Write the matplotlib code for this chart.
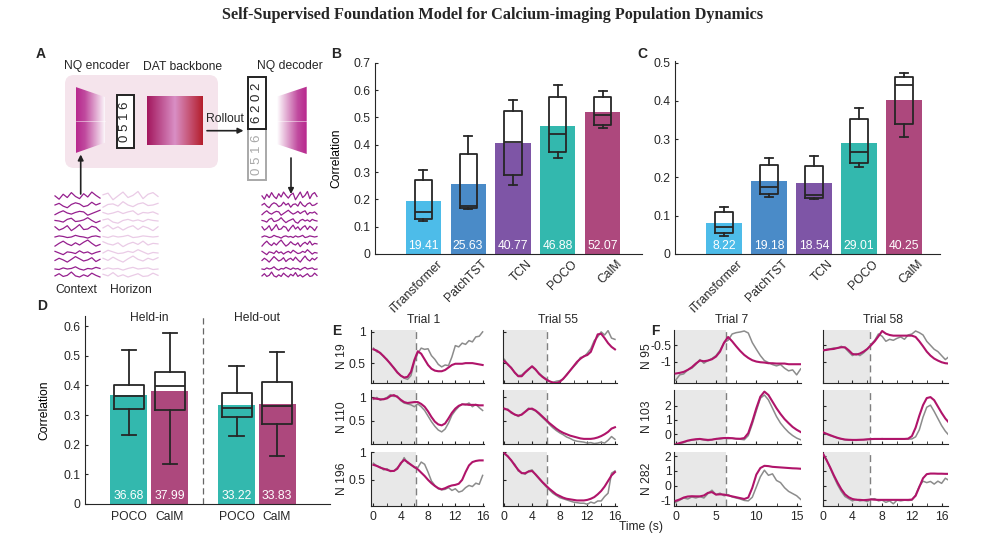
import numpy as np
import matplotlib
matplotlib.use('Agg')
import matplotlib.pyplot as plt
from matplotlib import transforms
from matplotlib.patches import Polygon, Rectangle, FancyBboxPatch
from matplotlib.colors import LinearSegmentedColormap

W, H = 985, 542

# ---------------- data ----------------
models = ['iTransformer', 'PatchTST', 'TCN', 'POCO', 'CalM']
bar_colors = ['#4DBCE9', '#4A8BC8', '#7E55A6', '#33B8AE', '#AD487D']

# panel B (held-in correlation)
b_mean = [19.41, 25.63, 40.77, 46.88, 52.07]
b_whislo = [0.120, 0.163, 0.252, 0.350, 0.460]
b_q1 = [0.128, 0.168, 0.290, 0.372, 0.472]
b_med = [0.155, 0.175, 0.408, 0.440, 0.510]
b_q3 = [0.270, 0.367, 0.525, 0.575, 0.575]
b_whishi = [0.307, 0.430, 0.565, 0.618, 0.595]

# panel C
c_mean = [8.22, 19.18, 18.54, 29.01, 40.25]
c_whislo = [0.048, 0.150, 0.144, 0.228, 0.306]
c_q1 = [0.054, 0.156, 0.147, 0.237, 0.339]
c_med = [0.071, 0.176, 0.154, 0.266, 0.441]
c_q3 = [0.110, 0.232, 0.231, 0.352, 0.463]
c_whishi = [0.123, 0.251, 0.256, 0.380, 0.472]

# panel D
d_labels = ['POCO', 'CalM', 'POCO', 'CalM']
d_groups = ['Held-in', 'Held-out']
d_colors = ['#33B8AE', '#AD487D', '#33B8AE', '#AD487D']
d_mean = [36.68, 37.99, 33.22, 33.83]
d_whislo = [0.234, 0.134, 0.231, 0.163]
d_q1 = [0.321, 0.316, 0.293, 0.271]
d_med = [0.365, 0.397, 0.324, 0.330]
d_q3 = [0.402, 0.445, 0.374, 0.410]
d_whishi = [0.518, 0.576, 0.466, 0.512]

# panel E: time in s, recorded (gray) vs predicted (magenta)
t_e = np.arange(0, 16.01, 0.5)
e_n19_t1_true = [0.74, 0.68, 0.67, 0.60, 0.56, 0.48, 0.43, 0.36, 0.30, 0.26, 0.24, 0.30, 0.52, 0.66, 0.74, 0.72, 0.73,
                 0.62, 0.56, 0.48, 0.44, 0.47, 0.46, 0.60, 0.78, 0.76, 0.82, 0.80, 0.86, 0.84, 0.92, 0.93, 1.0]
e_n19_t1_pred = [0.72, 0.70, 0.66, 0.61, 0.55, 0.49, 0.42, 0.35, 0.30, 0.27, 0.28, 0.36, 0.55, 0.69, 0.65, 0.56, 0.47,
                 0.41, 0.38, 0.37, 0.37, 0.39, 0.43, 0.47, 0.49, 0.49, 0.49, 0.50, 0.50, 0.50, 0.49, 0.48, 0.47]
e_n19_t55_true = [0.56, 0.47, 0.43, 0.34, 0.30, 0.31, 0.36, 0.41, 0.44, 0.39, 0.34, 0.29, 0.25, 0.21, 0.19, 0.21, 0.22,
                  0.24, 0.32, 0.38, 0.44, 0.50, 0.59, 0.60, 0.66, 0.73, 0.86, 0.92, 1.0, 0.95, 1.02, 0.90, 0.88]
e_n19_t55_pred = [0.53, 0.48, 0.42, 0.35, 0.29, 0.29, 0.35, 0.40, 0.45, 0.40, 0.33, 0.28, 0.24, 0.21, 0.19, 0.18, 0.20,
                  0.25, 0.31, 0.38, 0.45, 0.52, 0.57, 0.61, 0.63, 0.68, 0.82, 0.96, 0.97, 0.90, 0.82, 0.76, 0.72]
e_n110_t1_true = [0.96, 1.0, 0.94, 0.97, 1.0, 1.06, 1.02, 1.03, 0.93, 0.88, 0.86, 0.84, 0.80, 0.86, 0.80, 0.72, 0.60,
                  0.48, 0.38, 0.30, 0.26, 0.32, 0.45, 0.62, 0.72, 0.80, 0.86, 0.84, 0.88, 0.80, 0.85, 0.78, 0.72]
e_n110_t1_pred = [0.98, 0.97, 0.96, 0.96, 0.98, 1.03, 1.05, 1.01, 0.95, 0.90, 0.88, 0.89, 0.90, 0.90, 0.86, 0.80, 0.70,
                  0.58, 0.48, 0.42, 0.40, 0.44, 0.55, 0.67, 0.76, 0.82, 0.85, 0.85, 0.84, 0.84, 0.84, 0.83, 0.83]
e_n110_t55_true = [0.74, 0.75, 0.66, 0.64, 0.59, 0.64, 0.70, 0.77, 0.74, 0.71, 0.64, 0.57, 0.50, 0.42, 0.35, 0.29, 0.24,
                   0.20, 0.15, 0.12, 0.08, 0.06, 0.05, 0.04, 0.02, 0.03, 0.01, 0.02, 0.04, 0.02, 0.08, 0.16, 0.10]
e_n110_t55_pred = [0.76, 0.73, 0.68, 0.63, 0.61, 0.63, 0.69, 0.75, 0.76, 0.72, 0.66, 0.59, 0.52, 0.45, 0.39, 0.33, 0.28,
                   0.24, 0.21, 0.18, 0.16, 0.14, 0.12, 0.11, 0.11, 0.11, 0.12, 0.14, 0.17, 0.21, 0.26, 0.33, 0.36]
e_n196_t1_true = [0.80, 0.75, 0.73, 0.68, 0.70, 0.65, 0.66, 0.72, 0.78, 0.90, 0.80, 0.78, 0.72, 0.72, 0.82, 0.78, 0.64,
                  0.48, 0.40, 0.34, 0.32, 0.33, 0.36, 0.31, 0.34, 0.28, 0.30, 0.36, 0.40, 0.38, 0.44, 0.42, 0.58]
e_n196_t1_pred = [0.77, 0.75, 0.72, 0.70, 0.68, 0.66, 0.66, 0.70, 0.80, 0.86, 0.82, 0.77, 0.73, 0.69, 0.63, 0.57, 0.50,
                  0.44, 0.39, 0.35, 0.33, 0.35, 0.38, 0.40, 0.41, 0.43, 0.50, 0.64, 0.76, 0.82, 0.84, 0.85, 0.85]
e_n196_t55_true = [0.96, 0.93, 0.84, 0.78, 0.66, 0.63, 0.60, 0.66, 0.68, 0.59, 0.52, 0.45, 0.38, 0.32, 0.26, 0.22, 0.18,
                   0.16, 0.14, 0.12, 0.10, 0.09, 0.08, 0.08, 0.06, 0.10, 0.08, 0.12, 0.12, 0.20, 0.26, 0.62, 0.66]
e_n196_t55_pred = [0.98, 0.92, 0.85, 0.76, 0.68, 0.62, 0.62, 0.65, 0.66, 0.60, 0.53, 0.46, 0.40, 0.34, 0.29, 0.24, 0.21,
                   0.18, 0.16, 0.15, 0.14, 0.13, 0.13, 0.13, 0.14, 0.16, 0.19, 0.24, 0.30, 0.38, 0.48, 0.58, 0.64]

# panel F
t_f7 = np.arange(0, 15.51, 0.5)
t_f58 = np.arange(0, 17.01, 0.5)
f_n95_t7_true = [-1.55, -1.39, -1.36, -1.24, -1.19, -1.08, -0.93, -1.04, -0.96, -0.90, -0.81, -0.65, -0.42, -0.35,
                 -0.16, -0.12, -0.10, -0.07, -0.13, -0.42, -0.62, -0.81, -0.96, -1.02, -1.08, -1.12, -1.08, -1.19,
                 -1.27, -1.24, -1.39, -1.21]
f_n95_t7_pred = [-1.35, -1.33, -1.30, -1.24, -1.16, -1.05, -0.96, -0.98, -0.96, -0.92, -0.84, -0.69, -0.42, -0.25,
                 -0.38, -0.53, -0.67, -0.79, -0.88, -0.95, -0.99, -1.01, -1.02, -1.04, -1.04, -1.05, -1.05, -1.05,
                 -1.07, -1.07, -1.07, -1.07]
f_n95_t58_true = [-0.69, -0.62, -0.61, -0.58, -0.59, -0.53, -0.58, -0.70, -0.81, -0.75, -0.81, -0.73, -0.62, -0.47,
                  -0.35, -0.16, -0.23, -0.38, -0.32, -0.35, -0.29, -0.25, -0.32, -0.19, -0.16, -0.07, -0.12, -0.19,
                  -0.38, -0.50, -0.62, -0.69, -0.81, -0.93, -0.84]
f_n95_t58_pred = [-0.65, -0.64, -0.62, -0.61, -0.58, -0.56, -0.56, -0.65, -0.76, -0.78, -0.75, -0.69, -0.61, -0.50,
                  -0.38, -0.23, -0.07, -0.15, -0.19, -0.21, -0.21, -0.21, -0.21, -0.21, -0.21, -0.25, -0.38, -0.53,
                  -0.69, -0.81, -0.90, -0.96, -1.01, -1.04, -1.05]
f_n103_t7_true = [-0.76, -0.70, -0.61, -0.49, -0.44, -0.40, -0.37, -0.42, -0.47, -0.41, -0.33, -0.35, -0.29, -0.33,
                  -0.30, -0.35, -0.37, -0.41, -0.11, 0.71, 1.65, 2.54, 2.77, 2.42, 1.83, 1.24, 0.77, 0.42, 0.12,
                  -0.11, -0.29, -0.41]
f_n103_t7_pred = [-0.74, -0.64, -0.56, -0.47, -0.41, -0.37, -0.35, -0.39, -0.42, -0.40, -0.35, -0.31, -0.29, -0.28,
                  -0.30, -0.33, -0.34, -0.29, 0.06, 0.89, 1.83, 2.65, 3.01, 2.77, 2.30, 1.83, 1.42, 1.06, 0.77,
                  0.50, 0.30, 0.14]
f_n103_t58_true = [0.05, 0.0, -0.12, -0.20, -0.30, -0.36, -0.42, -0.44, -0.43, -0.45, -0.42, -0.41, -0.38, -0.35,
                   -0.34, -0.36, -0.33, -0.36, -0.35, -0.37, -0.35, -0.36, -0.34, -0.36, -0.35, -0.20, 0.30, 1.20,
                   1.90, 2.05, 1.60, 1.10, 0.60, 0.20, -0.10]
f_n103_t58_pred = [0.13, 0.02, -0.08, -0.18, -0.27, -0.34, -0.39, -0.41, -0.42, -0.42, -0.41, -0.40, -0.38, -0.36,
                   -0.35, -0.35, -0.35, -0.35, -0.35, -0.35, -0.35, -0.35, -0.35, -0.33, -0.15, 0.45, 1.30, 2.05,
                   2.55, 2.62, 2.40, 1.95, 1.50, 1.10, 0.80]
f_n282_t7_true = [-1.15, -1.0, -0.85, -0.92, -0.78, -0.85, -0.76, -0.85, -0.55, -0.32, -0.62, -0.52, -0.70, -0.62,
                  -0.78, -0.85, -0.92, -1.02, -1.05, -0.80, -0.10, 0.60, 1.05, 0.70, 0.80, 0.35, 0.20, -0.15, -0.40,
                  -0.55, -0.70, -0.95]
f_n282_t7_pred = [-1.05, -0.95, -0.82, -0.75, -0.73, -0.74, -0.74, -0.68, -0.50, -0.45, -0.62, -0.60, -0.62, -0.68,
                  -0.74, -0.80, -0.86, -0.92, -0.82, -0.15, 0.75, 1.20, 1.35, 1.33, 1.28, 1.26, 1.24, 1.22, 1.20,
                  1.18, 1.17, 1.15]
f_n282_t58_true = [2.25, 1.80, 1.20, 0.60, 0.05, -0.40, -0.75, -0.90, -1.05, -0.95, -1.05, -1.0, -1.10, -0.92, -0.90,
                   -1.05, -1.0, -1.15, -1.05, -1.25, -1.0, -1.05, -1.0, -1.02, -1.0, -0.65, -0.05, 0.30, 0.20, 0.28,
                   0.10, 0.30, 0.15, 0.50, 0.35]
f_n282_t58_pred = [2.20, 1.75, 1.25, 0.70, 0.20, -0.25, -0.60, -0.80, -0.92, -0.97, -0.98, -1.0, -0.98, -0.95, -0.97,
                   -0.98, -0.98, -0.98, -0.98, -0.98, -0.98, -0.98, -0.98, -0.98, -0.96, -0.70, -0.10, 0.50, 0.78,
                   0.82, 0.82, 0.81, 0.81, 0.80, 0.80]

# panel A: schematic activity traces (context + horizon)
a_traces = [
    [0.2, -0.4, 0.5, -0.1, 0.8, 0.1, -0.3, 0.6, 0.0, 0.9, 0.3, -0.2, 0.4, 0.7, -0.5, 0.2, 0.9, -0.1, 0.3, 1.0, -0.3, 0.5, 0.8, 0.1],
    [0.0, 0.3, -0.2, -0.5, 0.1, 0.4, 0.2, -0.3, -0.1, 0.5, 0.0, 0.3, -0.4, 0.1, 0.2, -0.2, 0.6, 0.0, -0.3, 0.2, 0.4, -0.1, 0.0, 0.3],
    [-0.3, 0.1, 0.4, 0.0, -0.2, 0.1, 0.3, 0.2, -0.4, -0.1, 0.2, 0.5, 0.1, -0.2, 0.0, 0.3, -0.1, 0.2, 0.4, -0.3, 0.1, 0.0, 0.2, -0.2],
    [0.1, 0.0, -0.2, 0.3, 0.5, -0.1, 0.0, 0.2, 0.6, 0.1, -0.3, 0.0, 0.2, 0.4, -0.2, -0.4, 0.1, 0.3, 0.0, 0.2, -0.1, 0.3, 0.1, 0.0],
    [0.4, -0.2, 0.1, 0.6, -0.3, 0.2, 0.8, -0.1, 0.0, 0.5, 0.3, -0.4, 0.2, 0.7, 0.0, 0.4, -0.2, 0.3, 0.6, -0.1, 0.5, 0.2, -0.3, 0.4],
    [0.0, 0.2, 0.1, -0.1, 0.0, 0.3, 0.1, 0.0, -0.2, 0.1, 0.2, 0.0, 0.1, -0.1, 0.2, 0.0, 0.1, 0.3, -0.1, 0.0, 0.2, 0.1, 0.0, 0.1],
    [-0.2, 0.3, 0.7, 0.2, -0.1, 0.4, 0.0, 0.5, 0.9, 0.3, -0.2, 0.1, 0.6, 0.2, 0.0, 0.4, -0.3, 0.2, 0.5, 0.1, 0.7, 0.0, 0.3, 0.2],
    [0.3, 0.0, -0.3, 0.2, 0.1, -0.1, 0.4, 0.0, 0.2, -0.2, 0.1, 0.3, 0.0, 0.5, 0.2, -0.1, 0.0, 0.3, 0.1, 0.6, 0.2, -0.2, 0.1, 0.0],
    [0.1, 0.5, 0.2, -0.2, 0.3, 0.8, 0.4, 0.0, 0.2, 0.6, -0.1, 0.3, 0.5, 0.1, 0.7, 0.2, -0.2, 0.4, 0.9, 0.3, 0.0, 0.5, 0.2, 0.6],
    [0.0, -0.1, 0.2, 0.0, 0.1, 0.4, 0.0, -0.2, 0.1, 0.0, 0.3, 0.1, -0.1, 0.2, 0.0, 0.1, -0.2, 0.1, 0.3, 0.0, 0.1, 0.2, -0.1, 0.0],
    [0.2, 0.6, 0.1, 0.3, 0.9, 0.2, 0.0, 0.4, 0.1, 0.7, 0.3, 0.0, 0.5, 0.2, 0.8, 0.1, 0.4, 0.0, 0.3, 0.6, 0.1, 0.2, 0.7, 0.3],
]

# ---------------- style ----------------
plt.rcParams['font.family'] = ['Liberation Sans', 'DejaVu Sans']
plt.rcParams['font.size'] = 8.7
plt.rcParams['xtick.direction'] = 'in'
plt.rcParams['ytick.direction'] = 'in'
plt.rcParams['xtick.major.size'] = 2.5
plt.rcParams['ytick.major.size'] = 2.5
plt.rcParams['xtick.minor.size'] = 2.5
plt.rcParams['axes.linewidth'] = 0.8
plt.rcParams['axes.edgecolor'] = '#262626'
plt.rcParams['xtick.color'] = '#262626'
plt.rcParams['ytick.color'] = '#262626'
plt.rcParams['text.color'] = '#262626'

GRAY = '#8C8C8C'
MAG = '#B0146A'
BOXC = '#262626'


def rect(x0, y0, x1, y1):
    # pixel box -> figure fraction
    return [x0 / W, 1 - y1 / H, (x1 - x0) / W, (y1 - y0) / H]


def clean(ax):
    ax.spines['top'].set_visible(False)
    ax.spines['right'].set_visible(False)


def bar_box(ax, pos, means, lo, q1, med, q3, hi, colors, width, boxw):
    ax.bar(pos, np.array(means) / 100, width=width, color=colors, zorder=1)
    stats = [dict(whislo=a, q1=b, med=c, q3=d, whishi=e) for a, b, c, d, e in zip(lo, q1, med, q3, hi)]
    lp = dict(color=BOXC, lw=1.3)
    ax.bxp(stats, positions=pos, widths=boxw, capwidths=boxw * 0.5, showfliers=False,
           boxprops=lp, whiskerprops=lp, capprops=lp, medianprops=lp, manage_ticks=False)
    for p, m in zip(pos, means):
        ax.annotate(f'{m:.2f}', (p, 0), xytext=(0, 1.5), textcoords='offset points',
                    ha='center', va='bottom', color='white', fontsize=8.7)


fig = plt.figure(figsize=(W / 100, H / 100), dpi=100)

fig.text(0.5, 1 - 15 / H, 'Self-Supervised Foundation Model for Calcium-imaging Population Dynamics',
         ha='center', va='center', fontfamily='Liberation Serif', fontweight='bold', fontsize=11.7)

for lab, x, y in [('A', 41, 54), ('B', 336, 54), ('C', 642, 54), ('D', 42, 306), ('E', 337, 331), ('F', 655, 331)]:
    fig.text(x / W, 1 - y / H, lab, ha='center', va='center', fontweight='bold', fontsize=10)

# ---------------- panel A ----------------
axA = fig.add_axes(rect(30, 40, 330, 300))
axA.axis('off')
axA.add_patch(FancyBboxPatch((65, 75), 153, 93, boxstyle='round,pad=0,rounding_size=9',
                             fc='#F5E4EC', ec='none', zorder=0))
enc_cmap = LinearSegmentedColormap.from_list('enc', [(0, '#B8288E'), (0.3, '#C04A9E'), (1, '#FFFFFF')])
dec_cmap = LinearSegmentedColormap.from_list('dec', [(0, '#FFFFFF'), (0.7, '#C04A9E'), (1, '#B8288E')])
dat_cmap = LinearSegmentedColormap.from_list('dat', ['#A3175E', '#D98FC5', '#B41E2C'])
grad = np.linspace(0, 1, 200)[None, :]

enc = Polygon([(75.7, 87), (105, 97), (105, 142.7), (75.7, 153)], closed=True, fc='none', ec='none')
axA.add_patch(enc)
im = axA.imshow(grad, extent=(75.7, 105, 153, 87), cmap=enc_cmap, aspect='auto', zorder=1)
im.set_clip_path(enc)
dec = Polygon([(276.7, 96.7), (306.7, 86.7), (306.7, 154), (276.7, 144)], closed=True, fc='none', ec='none')
axA.add_patch(dec)
im = axA.imshow(grad, extent=(276.7, 306.7, 154, 86.7), cmap=dec_cmap, aspect='auto', zorder=1)
im.set_clip_path(dec)
axA.imshow(grad, extent=(146.7, 202.7, 145, 96), cmap=dat_cmap, aspect='auto', zorder=1)
axA.plot([75.7, 105], [120.5, 120.5], color='white', lw=0.5, alpha=0.7, zorder=2)
axA.plot([276.7, 306.7], [120.5, 120.5], color='white', lw=0.5, alpha=0.7, zorder=2)

axA.add_patch(Rectangle((116.7, 95), 17.3, 53.3, fc='white', ec='#222222', lw=1.4, zorder=2))
axA.text(125.3, 121.6, '0 5 1 6', rotation=90, ha='center', va='center', fontsize=9.5, zorder=3)
axA.add_patch(Rectangle((248.3, 129.3), 17.7, 50.7, fc='white', ec='#A8A8A8', lw=1.4, zorder=2))
axA.text(257.1, 154.6, '0 5 1 6', rotation=90, ha='center', va='center', fontsize=9.5, color='#A8A8A8', zorder=3)
axA.add_patch(Rectangle((248.3, 76.7), 17.7, 52.6, fc='white', ec='#222222', lw=1.4, zorder=2))
axA.text(257.1, 103, '6 2 0 2', rotation=90, ha='center', va='center', fontsize=9.5, zorder=3)

axA.text(96.7, 66.5, 'NQ encoder', ha='center', va='center')
axA.text(182.7, 66.5, 'DAT backbone', ha='center', va='center')
axA.text(290, 66.5, 'NQ decoder', ha='center', va='center')
axA.text(225, 118.5, 'Rollout', ha='center', va='center')
axA.text(76.7, 290, 'Context', ha='center', va='center')
axA.text(131, 290, 'Horizon', ha='center', va='center')

arr = dict(arrowstyle='-|>', color='#222222', lw=1.2, mutation_scale=8, shrinkA=0, shrinkB=0)
axA.annotate('', xy=(243.5, 130.7), xytext=(207, 130.7), arrowprops=arr)
axA.annotate('', xy=(291, 194), xytext=(291, 158), arrowprops=arr)
axA.annotate('', xy=(80.7, 154.5), xytext=(80.7, 194), arrowprops=arr)

x_ctx = np.linspace(55, 100, 12)
x_hor = np.linspace(103, 158, 12)
x_dec = np.linspace(262, 317, 24)
for i, tr in enumerate(a_traces):
    base = 197 + i * 8.0
    y = base - 5.5 * np.array(tr)
    axA.plot(x_hor, y[12:], color='#EACBE6', lw=0.9)
    axA.plot(x_ctx, y[:12], color='#951F8E', lw=0.9)
    axA.plot(x_dec, y, color='#951F8E', lw=0.9)
axA.set_xlim(30, 330)
axA.set_ylim(300, 40)

# ---------------- panels B and C ----------------
pos = np.arange(1, 6)
axB = fig.add_axes(rect(375, 62.7, 642, 254))
bar_box(axB, pos, b_mean, b_whislo, b_q1, b_med, b_q3, b_whishi, bar_colors, 0.78, 0.38)
axB.set_ylim(0, 0.7)
axB.set_xlim(-0.07, 5.87)
axB.set_yticks(np.arange(0, 0.71, 0.1))
axB.set_yticklabels(['0', '0.1', '0.2', '0.3', '0.4', '0.5', '0.6', '0.7'])
axB.set_ylabel('Correlation')
axB.yaxis.set_label_coords(-0.121, 0.5)

axC = fig.add_axes(rect(675, 60.6, 940, 254))
bar_box(axC, pos, c_mean, c_whislo, c_q1, c_med, c_q3, c_whishi, bar_colors, 0.78, 0.38)
axC.set_ylim(0, 0.505)
axC.set_xlim(-0.09, 5.8)
axC.set_yticks(np.arange(0, 0.51, 0.1))
axC.set_yticklabels(['0', '0.1', '0.2', '0.3', '0.4', '0.5'])

for ax in (axB, axC):
    clean(ax)
    ax.set_xticks(pos)
    ax.set_xticklabels(models, rotation=45, ha='right', va='center', rotation_mode='anchor')
    ax.tick_params(axis='x', length=0, pad=3)
    off = transforms.ScaledTranslation(17 / 100, -4 / 100, fig.dpi_scale_trans)
    for lab in ax.get_xticklabels():
        lab.set_transform(lab.get_transform() + off)

# ---------------- panel D ----------------
axD = fig.add_axes(rect(85, 316, 330, 504))
d_pos = [1, 2, 3.63, 4.61]
bar_box(axD, d_pos, d_mean, d_whislo, d_q1, d_med, d_q3, d_whishi, d_colors, 0.9, 0.72)
axD.set_ylim(0, 0.634)
axD.set_xlim(-0.07, 5.9)
axD.set_yticks(np.arange(0, 0.61, 0.1))
axD.set_yticklabels(['0', '0.1', '0.2', '0.3', '0.4', '0.5', '0.6'])
axD.set_xticks(d_pos)
axD.set_xticklabels(d_labels)
axD.tick_params(axis='x', length=0, pad=5)
axD.axvline(2.81, color='#666666', ls=(0, (5, 3)), lw=0.9)
axD.text(1.5, 0.627, d_groups[0], ha='center', va='center')
axD.text(4.12, 0.627, d_groups[1], ha='center', va='center')
axD.set_ylabel('Correlation')
axD.yaxis.set_label_coords(-0.143, 0.5)
clean(axD)

# ---------------- panels E and F ----------------
rows = [(330, 382.5), (389.5, 444), (451.5, 506)]


def trace_panel(box, t, true, pred, ctx_end, xlim, ylim):
    ax = fig.add_axes(rect(box[0], box[1], box[2], box[3]))
    ax.axvspan(xlim[0], ctx_end, color='#E8E8E8', lw=0, zorder=0)
    ax.axvline(ctx_end, color='#808080', ls=(0, (5, 3)), lw=1.0, zorder=1)
    ax.plot(t, true, color=GRAY, lw=1.1, zorder=2)
    ax.plot(t, pred, color=MAG, lw=1.5, zorder=3)
    ax.set_xlim(xlim)
    ax.set_ylim(ylim)
    clean(ax)
    return ax


e_true = [[e_n19_t1_true, e_n19_t55_true], [e_n110_t1_true, e_n110_t55_true], [e_n196_t1_true, e_n196_t55_true]]
e_pred = [[e_n19_t1_pred, e_n19_t55_pred], [e_n110_t1_pred, e_n110_t55_pred], [e_n196_t1_pred, e_n196_t55_pred]]
e_ylims = [(0.19, 1.03), (0.0, 1.17), (0.03, 1.01)]
e_names = ['N 19', 'N 110', 'N 196']
e_cols = [(370.7, 484, (-0.4, 16.2)), (502.7, 616.7, (-0.25, 16.25))]

f_true = [[f_n95_t7_true, f_n95_t58_true], [f_n103_t7_true, f_n103_t58_true], [f_n282_t7_true, f_n282_t58_true]]
f_pred = [[f_n95_t7_pred, f_n95_t58_pred], [f_n103_t7_pred, f_n103_t58_pred], [f_n282_t7_pred, f_n282_t58_pred]]
f_ylims = [(-1.62, -0.04), (-0.71, 3.16), (-1.4, 2.33)]
f_yticks = [([-1, -0.5], ['-1', '-0.5']), ([0, 1, 2], ['0', '1', '2']), ([-1, 0, 1, 2], ['-1', '0', '1', '2'])]
f_names = ['N 95', 'N 103', 'N 282']
f_cols = [(674.3, 800.7, (-0.17, 15.5), t_f7), (822.7, 948.3, (0, 16.9), t_f58)]

for r, (y0, y1) in enumerate(rows):
    for c, (x0, x1, xl) in enumerate(e_cols):
        ax = trace_panel((x0, y0, x1, y1), t_e, e_true[r][c], e_pred[r][c], 6.2, xl, e_ylims[r])
        ax.set_yticks([0.5, 1])
        ax.set_yticklabels(['0.5', '1'] if c == 0 else [])
        ax.set_xticks([0, 4, 8, 12, 16])
        ax.set_xticks([2, 6, 10, 14], minor=True)
        if r < 2:
            ax.set_xticklabels([])
    for c, (x0, x1, xl, tt) in enumerate(f_cols):
        ax = trace_panel((x0, y0, x1, y1), tt, f_true[r][c], f_pred[r][c], 6.3, xl, f_ylims[r])
        ax.set_yticks(f_yticks[r][0])
        ax.set_yticklabels(f_yticks[r][1] if c == 0 else [])
        ax.tick_params(axis='y', pad=2)
        if c == 0:
            ax.set_xticks([0, 5, 10, 15])
            ax.set_xticks([2.5, 7.5, 12.5], minor=True)
        else:
            ax.set_xticks([0, 4, 8, 12, 16])
            ax.set_xticks([2, 6, 10, 14], minor=True)
        if r < 2:
            ax.set_xticklabels([])
    yc = 1 - (y0 + y1) / 2 / H
    fig.text(341.7 / W, yc, e_names[r], rotation=90, ha='center', va='center')
    fig.text(647 / W, yc, f_names[r], rotation=90, ha='center', va='center')

for name, x in [('Trial 1', 423.3), ('Trial 55', 558.3), ('Trial 7', 731.7), ('Trial 58', 882.7)]:
    fig.text(x / W, 1 - 320 / H, name, ha='center', va='center')
fig.text(641 / W, 1 - 527 / H, 'Time (s)', ha='center', va='center')

fig.savefig('out.png', dpi=100)
